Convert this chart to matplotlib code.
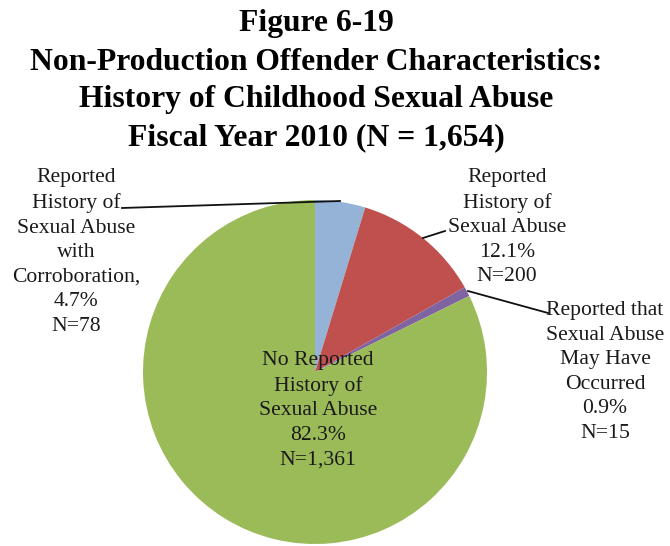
import matplotlib
matplotlib.use("Agg")
import matplotlib.pyplot as plt

categories = ["Reported\nHistory of\nSexual Abuse\nwith\nCorroboration,",
              "Reported\nHistory of\nSexual Abuse",
              "Reported that\nSexual Abuse\nMay Have\nOccurred",
              "No Reported\nHistory of\nSexual Abuse"]
counts = [78, 200, 15, 1361]
percents = ["4.7%", "12.1%", "0.9%", "82.3%"]
count_labels = ["N=78", "N=200", "N=15", "N=1,361"]
colors = ["#95B3D7", "#C0504D", "#8064A2", "#9BBB59"]
title_lines = ["Figure 6-19", "Non-Production Offender Characteristics:",
               "History of Childhood Sexual Abuse", "Fiscal Year 2010 (N = 1,654)"]

W, H = 670, 546
fig = plt.figure(figsize=(W / 100, H / 100), dpi=100)
ax = fig.add_axes([0, 0, 1, 1])

cx, cy, r = 315, H - 372, 172
wedges, _ = ax.pie(counts, colors=colors, startangle=90, counterclock=False,
                   center=(cx, cy), radius=r, frame=True,
                   wedgeprops=dict(linewidth=0))
ax.set_xlim(0, W)
ax.set_ylim(0, H)
ax.set_aspect("equal")
ax.axis("off")

serif = "Liberation Serif"
title_y = [23, 62, 100, 138]
for line, yy in zip(title_lines, title_y):
    ax.text(316, H - yy, line, ha="center", va="center", fontsize=22.8,
            fontweight="bold", family=serif, color="#000000")

# label positions (px) and leader lines
label_pos = [(76, 252), (507, 227), (605, 372), (318, 410)]
leaders = [[(122, 208), (340, 201)],
           [(445, 231), (423, 238)],
           [(548, 313), (468, 291)],
           None]
for i in range(4):
    txt = categories[i] + "\n" + percents[i] + "\n" + count_labels[i]
    x, y = label_pos[i]
    ax.text(x, H - y, txt, ha="center", va="center", fontsize=15.6,
            family=serif, color="#1a1a1a", linespacing=1.4)
    if leaders[i]:
        xs = [p[0] for p in leaders[i]]
        ys = [H - p[1] for p in leaders[i]]
        ax.plot(xs, ys, color="#111111", lw=1.3)

fig.savefig("out.png", dpi=100)
